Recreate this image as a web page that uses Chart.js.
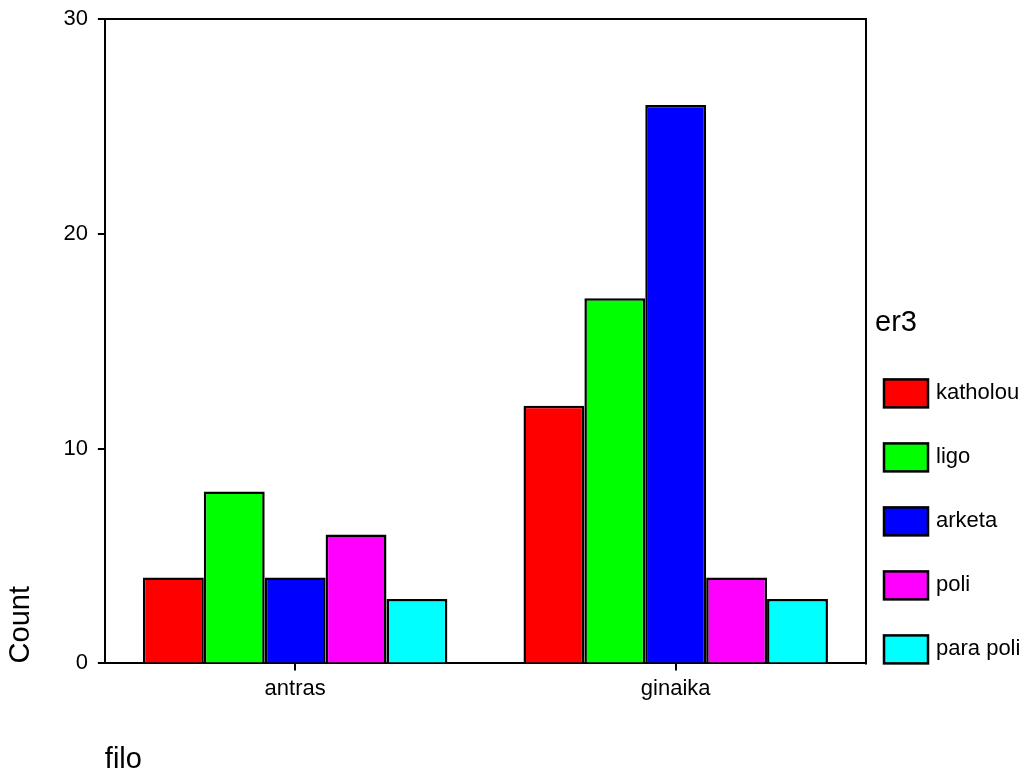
<!DOCTYPE html>
<html>
<head>
<meta charset="utf-8">
<title>filo / er3</title>
<script src="https://cdn.jsdelivr.net/npm/chart.js@4.4.1/dist/chart.umd.min.js"></script>
<style>
    html, body { margin: 0; padding: 0; background: #fff; }
    #wrap { position: relative; width: 1029px; height: 773px; }
</style>
</head>
<body>
<div id="wrap"><canvas id="countChart"></canvas></div>
<script>
// === Datos ===
const categories = ['antras', 'ginaika'];
const seriesLabels = ['katholou', 'ligo', 'arketa', 'poli', 'para poli'];
const katholou = [4, 12];
const ligo = [8, 17];
const arketa = [4, 26];
const poli = [6, 4];
const paraPoli = [3, 3];
const yTicks = [0, 10, 20, 30];

const seriesValues = [katholou, ligo, arketa, poli, paraPoli];
const seriesColors = ['#ff0000', '#00ff00', '#0000ff', '#ff00ff', '#00ffff'];
const fontFamily = '"Liberation Sans", Arial, Helvetica, sans-serif';

// === Marco superior y derecho del area del grafico ===
const frame = {
    id: 'frame',
    afterDatasetsDraw(chart) {
        const { ctx, chartArea: a } = chart;
        ctx.save();
        ctx.strokeStyle = '#000';
        ctx.lineWidth = 2;
        ctx.lineCap = 'square';
        ctx.beginPath();
        ctx.moveTo(a.left, a.top);
        ctx.lineTo(a.right, a.top);
        ctx.lineTo(a.right, a.bottom);
        ctx.stroke();
        ctx.restore();
    }
};

// === Leyenda a la derecha (estilo SPSS) ===
const sideLegend = {
    id: 'sideLegend',
    afterDraw(chart) {
        const { ctx, chartArea: a } = chart;
        const sets = chart.data.datasets;
        const step = 64, boxW = 44, boxH = 28;
        const boxX = a.right + 18;
        const firstTop = a.bottom - boxH - (sets.length - 1) * step;
        ctx.save();
        ctx.fillStyle = '#000';
        ctx.textAlign = 'left';
        ctx.textBaseline = 'middle';
        ctx.font = '29px ' + fontFamily;
        ctx.fillText('er3', a.right + 9, firstTop - 56);
        ctx.font = '22px ' + fontFamily;
        sets.forEach((ds, i) => {
            const y = firstTop + i * step;
            ctx.fillStyle = ds.backgroundColor;
            ctx.fillRect(boxX, y, boxW, boxH);
            ctx.strokeStyle = '#000';
            ctx.lineWidth = 2.5;
            ctx.strokeRect(boxX, y, boxW, boxH);
            ctx.fillStyle = '#000';
            ctx.fillText(ds.label, boxX + boxW + 8, y + boxH / 2);
        });
        ctx.restore();
    }
};

new Chart(document.getElementById('countChart'), {
    type: 'bar',
    data: {
        labels: categories,
        datasets: seriesLabels.map((label, i) => ({
            label: label,
            data: seriesValues[i],
            backgroundColor: seriesColors[i],
            borderColor: '#000',
            borderWidth: 2.5,
            borderSkipped: 'start',
            categoryPercentage: 0.8,
            barPercentage: 1.0
        }))
    },
    options: {
        responsive: true,
        maintainAspectRatio: false,
        animation: false,
        layout: { padding: { left: 0, right: 163, top: 19, bottom: 0 } },
        plugins: {
            legend: { display: false },
            tooltip: { enabled: false }
        },
        scales: {
            x: {
                grid: { offset: false, drawOnChartArea: false, drawTicks: true, tickLength: 7, color: '#000', lineWidth: 2 },
                border: { display: true, color: '#000', width: 2 },
                ticks: { color: '#000', padding: 5, font: { family: fontFamily, size: 22 } },
                title: {
                    display: true,
                    text: 'filo',
                    align: 'start',
                    color: '#000',
                    font: { family: fontFamily, size: 29, lineHeight: 0.8 },
                    padding: { top: 42, bottom: 1 }
                }
            },
            y: {
                min: yTicks[0],
                max: yTicks[yTicks.length - 1],
                grid: { drawOnChartArea: false, drawTicks: true, tickLength: 7, color: '#000', lineWidth: 2 },
                border: { display: true, color: '#000', width: 2 },
                ticks: {
                    stepSize: yTicks[1] - yTicks[0],
                    color: '#000',
                    padding: 10,
                    font: { family: fontFamily, size: 22, lineHeight: 0.8 }
                },
                title: {
                    display: true,
                    text: 'Count',
                    align: 'start',
                    color: '#000',
                    font: { family: fontFamily, size: 29 },
                    padding: { top: 3.6, bottom: 15 }
                }
            }
        }
    },
    plugins: [frame, sideLegend]
});
</script>
</body>
</html>
